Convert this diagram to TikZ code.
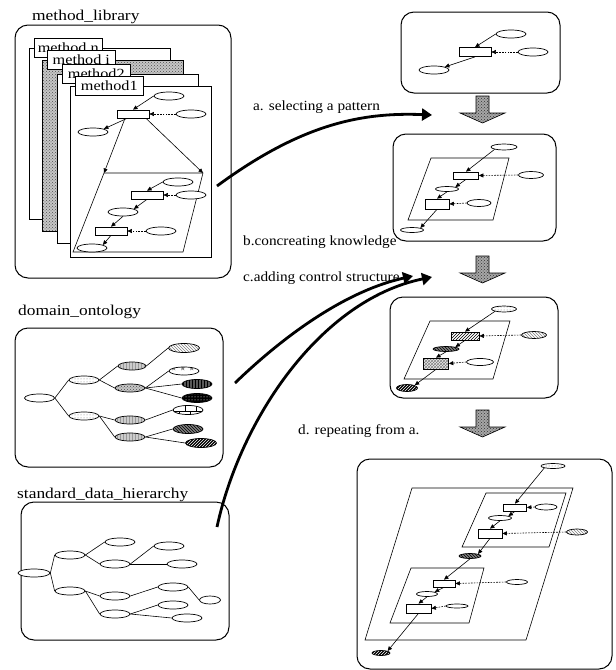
\documentclass[tikz,border=0pt]{standalone}
\usepackage{fontspec}
\setmainfont{Liberation Serif}
\newfontfamily\titlefont[FakeStretch=1.16]{Liberation Serif}
\newfontfamily\notefont[FakeStretch=1.09]{Liberation Serif}
\usepackage{tikz}
\usetikzlibrary{shapes.geometric,arrows.meta,patterns}

\tikzset{
  heading/.style={font=\titlefont\fontsize{15}{18}\selectfont, inner sep=0pt, anchor=base west},
  steplabel/.style={font=\notefont\fontsize{14}{16}\selectfont, inner sep=0pt, anchor=base west},
  panel/.style={line width=1pt, rounded corners=13pt},
  sheet/.style={draw, line width=0.6pt, fill=white},
  dotsheet/.style={draw, line width=0.6pt, preaction={fill=gray!45}, pattern=crosshatch dots, pattern color=black!70},
  tabbox/.style={draw, line width=0.6pt, fill=white, anchor=north west, minimum width=68pt, minimum height=19pt, inner sep=1pt, font=\titlefont\fontsize{14}{14}\selectfont},
  concept/.style={ellipse, draw, line width=0.7pt, fill=white, inner sep=0pt, minimum width=30pt, minimum height=8pt},
  task/.style={rectangle, draw, line width=0.7pt, fill=white, inner sep=0pt, minimum width=32pt, minimum height=8pt},
  sz/.style 2 args={minimum width=#1, minimum height=#2},
  link/.style={line width=0.6pt},
  flow/.style={line width=0.6pt, -{Triangle[length=4.5pt,width=4pt]}},
  hint/.style={flow, dash pattern=on 1.6pt off 1.2pt},
  bigflow/.style={line width=2.8pt, -{Triangle[length=10pt,width=12pt]}},
  blockfill/.style={draw, line width=0.6pt, preaction={fill=gray!70}, pattern=crosshatch dots, pattern color=black!80},
  % fill patterns of the concepts
  pdots/.style={preaction={fill=white}, pattern=dots, pattern color=gray},
  pgray/.style={preaction={fill=gray!40}, pattern=vertical lines, pattern color=gray!80},
  pdense/.style={preaction={fill=gray!45}, pattern=crosshatch dots, pattern color=black!70},
  plight/.style={preaction={fill=white}, pattern=north west lines, pattern color=gray},
  pstars/.style={preaction={fill=white}, pattern=fivepointed stars, pattern color=gray},
  pdarkv/.style={preaction={fill=black!65}, pattern=vertical lines, pattern color=black},
  pblackdots/.style={preaction={fill=black}, pattern=dots, pattern color=white},
  pbricks/.style={preaction={fill=white}, pattern=bricks},
  pdarkhatch/.style={preaction={fill=black!50}, pattern=north west lines, pattern color=black},
  pblackhatch/.style={preaction={fill=black}, pattern=north east lines, pattern color=white},
  pline/.style={preaction={fill=white}, pattern=north east lines, pattern color=black},
  pzig/.style={preaction={fill=gray!15}, pattern=crosshatch, pattern color=gray},
  downblock/.pic={\draw[blockfill] (-6.5,0) -- (6.5,0) -- (6.5,17) -- (22.5,17) -- (0,27) -- (-22.5,17) -- (-6.5,17) -- cycle;}
}

\begin{document}
\begin{tikzpicture}[x=1pt, y=-1pt]
\useasboundingbox (0,0) rectangle (616,670);

% Headings
\node[heading] (tLib) at (32,20) {method\_library};
\node[heading] (tOnto) at (18,315) {domain\_ontology};
\node[heading] (tData) at (17,498) {standard\_data\_hierarchy};

% Method library
\draw[panel] (15,25) rectangle (231,278);
\foreach \lx/\ty/\rx/\by/\st/\nm/\txt in {29/48/170/219/sheet/n/method n, 42/60/183/231/dotsheet/i/method i, 57/74/198/243/sheet/2/method2, 70/86/211/257/sheet/1/method1} {
    \draw[\st] (\lx,\ty) rectangle (\rx,\by);
    \node[tabbox] (tab\nm) at (\lx+5,\ty-10) {\txt};
}

% Pattern inside method1
\node[concept] (libIn) at (169,96) {};
\node[task] (libTask) at (133,114) {};
\node[concept] (libCtl) at (191,114) {};
\node[concept] (libOut) at (93,132) {};
\draw[flow] (libIn.west) -- (libTask.north);
\draw[hint] (libCtl.west) -- (libTask.east);
\draw[flow] ([xshift=-6pt]libTask.south) -- (libOut.north east);
\coordinate (libL) at (104,173);
\coordinate (libR) at (203,173);
\draw[link] (libL) -- (libR) -- (183,252) -- (73,252) -- cycle;
\draw[flow] ([xshift=-8pt]libTask.south) -- (libL);
\draw[flow] ([xshift=13pt]libTask.south) -- (libR);
\node[concept] (libB1) at (178,182) {};
\node[task] (libB2) at (147,195) {};
\node[concept] (libB3) at (191,195) {};
\node[concept] (libB4) at (123,212) {};
\node[task] (libB5) at (111,231) {};
\node[concept] (libB6) at (161,231) {};
\node[concept] (libB7) at (92,248) {};
\foreach \a/\b in {libB1.west/libB2.north, libB2.south/libB4.north east, libB4.south/libB5.north, libB5.south/libB7.north east}
    \draw[flow] (\a) -- (\b);
\foreach \a/\b in {libB3.west/libB2.east, libB6.west/libB5.east}
    \draw[hint] (\a) -- (\b);

% Domain ontology
\draw[panel] (15,328) rectangle (223,467);
\node[concept] (o0) at (39.5,398) {};
\node[concept, pdots] (oA) at (84,380) {};
\node[concept, pdots] (oB) at (84,416) {};
\node[concept, pgray, sz={28pt}{8pt}] (oA1) at (132,366) {};
\node[concept, pdense] (oA2) at (130,388) {};
\node[concept, pgray] (oB1) at (130,420) {};
\node[concept, pgray] (oB2) at (130,437) {};
\node[concept, plight, sz={31pt}{9pt}] (oA1a) at (184,348) {};
\node[concept, pstars] (oA2a) at (184,371) {};
\node[concept, pdarkv, sz={30pt}{9pt}] (oA2b) at (197,384) {};
\node[concept, pblackdots, sz={30pt}{9pt}] (oA2c) at (197,398) {};
\node[concept, pbricks, sz={30pt}{9pt}] (oB1a) at (188,410) {};
\node[concept, pdarkhatch, sz={30pt}{9pt}] (oB2a) at (188,429) {};
\node[concept, pblackhatch, sz={31pt}{9pt}] (oB2b) at (201,443) {};
\foreach \p/\c in {o0/oA, o0/oB, oA/oA1, oA/oA2, oA1/oA1a, oA2/oA2a, oA2/oA2b, oA2/oA2c, oB/oB1, oB/oB2, oB1/oB1a, oB2/oB2a, oB2/oB2b}
    \draw[link] (\p.east) -- (\c.west);

% Standard data hierarchy
\draw[panel] (21,502) rectangle (229,640);
\node[concept, sz={32pt}{8pt}] (d0) at (34,573) {};
\node[concept] (dP) at (70,555) {};
\node[concept] (dQ) at (70,591) {};
\node[concept] (dP1) at (120,542) {};
\node[concept] (dP2) at (115,564) {};
\node[concept] (dP2a) at (169,546) {};
\node[concept] (dP2b) at (182,564) {};
\node[concept] (dQ1) at (115,596) {};
\node[concept] (dQ2) at (115,614) {};
\node[concept] (dQ1a) at (173,587) {};
\node[concept, sz={21pt}{8pt}] (dQ1b) at (210,600) {};
\node[concept] (dQ2a) at (173,605) {};
\node[concept] (dQ2b) at (187,618) {};
\foreach \p/\c in {d0/dP, d0/dQ, dP/dP1, dP/dP2, dP2/dP2a, dP2/dP2b, dQ/dQ1, dQ/dQ2, dQ1/dQ1a, dQ1a/dQ1b, dQ2/dQ2a, dQ2/dQ2b}
    \draw[link] (\p.east) -- (\c.west);

% Step 1: selected pattern
\draw[panel] (401,12) rectangle (560,93);
\node[concept] (selIn) at (511,34) {};
\node[task, sz={32pt}{9pt}] (selTask) at (475,52) {};
\node[concept] (selCtl) at (533,52) {};
\node[concept] (selOut) at (434,70) {};
\draw[flow] (selIn.west) -- (selTask.north);
\draw[hint] (selCtl.west) -- (selTask.east);
\draw[flow] (selTask.south) -- (selOut.north east);
\pic at (482.5,96) {downblock};

% Step 2: concrete knowledge
\draw[panel] (393,134) rectangle (556,241);
\draw[link] (431,158) -- (509,158) -- (493,220) -- (408,220) -- cycle;
\node[concept, sz={26pt}{6pt}] (conIn) at (504,147) {};
\node[task, sz={25pt}{7pt}] (conT1) at (466,175.5) {};
\node[concept, sz={25pt}{7pt}] (conC1) at (531,175) {};
\node[concept, sz={23pt}{5pt}] (conM) at (447,189) {};
\node[task, sz={24pt}{10pt}] (conT2) at (437,204) {};
\node[concept, sz={24pt}{7pt}] (conC2) at (479,203) {};
\node[concept, sz={23pt}{5pt}] (conOut) at (412,230) {};
\foreach \a/\b in {conIn.south west/conT1.north, conT1.south/conM.north east, conM.south/conT2.north, conT2.south/conOut.north east}
    \draw[flow] (\a) -- (\b);
\foreach \a/\b in {conC1.west/conT1.east, conC2.west/conT2.east}
    \draw[hint] (\a) -- (\b);
\pic at (482.5,256) {downblock};

% Step 3: control structure
\draw[panel] (390,297) rectangle (558,398);
\draw[link] (430,321) -- (510,321) -- (493,379) -- (404,379) -- cycle;
\node[concept, pdots, sz={25pt}{6pt}] (ctlIn) at (504,309) {};
\node[task, pline, sz={28pt}{8pt}] (ctlT1) at (465,336) {};
\node[concept, plight, sz={25pt}{7pt}] (ctlC1) at (534,335) {};
\node[concept, pdarkhatch, sz={26pt}{5pt}] (ctlM) at (446,349) {};
\node[task, pzig, sz={25pt}{11pt}] (ctlT2) at (436,363.5) {};
\node[concept, sz={27pt}{7pt}] (ctlC2) at (480,362) {};
\node[concept, pblackhatch, sz={21pt}{7pt}] (ctlOut) at (407,388) {};
\foreach \a/\b in {ctlIn.south west/ctlT1.north, ctlT1.south/ctlM.north east, ctlM.south/ctlT2.north, ctlT2.south/ctlOut.north east}
    \draw[flow] (\a) -- (\b);
\foreach \a/\b in {ctlC1.west/ctlT1.east, ctlC2.west/ctlT2.east}
    \draw[hint] (\a) -- (\b);
\pic at (482.5,410) {downblock};

% Step 4: repeated pattern
\draw[panel] (357,459) rectangle (612,669);
\draw[link] (412,488) -- (573,488) -- (526,640) -- (365,640) -- cycle;
\draw[link] (486,493) -- (566,493) -- (549,547) -- (462,547) -- cycle;
\draw[link] (411,568) -- (484,568) -- (469,623) -- (390,623) -- cycle;
\node[concept, pdots, sz={24pt}{5pt}] (rep1) at (553,466) {};
\node[task, sz={23pt}{7pt}] (rep2) at (515,507.5) {};
\node[concept, sz={22pt}{6pt}] (rep3) at (546,507) {};
\node[concept, sz={23pt}{5pt}] (rep4) at (500,518) {};
\node[task, sz={24pt}{9pt}] (rep5) at (490,533.5) {};
\node[concept, plight, sz={21pt}{6pt}] (rep6) at (577,532) {};
\node[concept, pdarkhatch, sz={22pt}{5pt}] (rep7) at (470,556) {};
\node[task, sz={22pt}{7pt}] (rep8) at (444,583.5) {};
\node[concept, sz={21pt}{5pt}] (rep9) at (517,582) {};
\node[concept, sz={21pt}{5pt}] (rep10) at (427,594) {};
\node[task, sz={25pt}{9pt}] (rep11) at (418.5,608.5) {};
\node[concept, sz={22pt}{4pt}] (rep12) at (457,606) {};
\node[concept, pblackhatch, sz={18pt}{5pt}] (rep13) at (381,653) {};
\foreach \a/\b in {rep1.south west/rep2.north, rep2.south/rep4.north east, rep4.south/rep5.north, rep5.south/rep7.north east, rep7.south/rep8.north, rep8.south/rep10.north east, rep10.south/rep11.north, rep11.south/rep13.north east}
    \draw[flow] (\a) -- (\b);
\foreach \a/\b in {rep3.west/rep2.east, rep6.west/rep5.east, rep9.west/rep8.east, rep12.west/rep11.east}
    \draw[hint] (\a) -- (\b);

% Steps between the parts
\coordinate (aFrom) at (217,186);
\coordinate (aTo) at (432,115);
\draw[bigflow] (aFrom) .. controls (300,125) and (360,112) .. (aTo);
\coordinate (cFrom1) at (235,383);
\coordinate (cTo1) at (413,276);
\draw[bigflow] (cFrom1) .. controls (290,330) and (350,290) .. (cTo1);
\coordinate (cFrom2) at (217,527);
\coordinate (cTo2) at (432,277);
\draw[bigflow] (cFrom2) .. controls (240,420) and (320,300) .. (cTo2);

% Labels
\node[steplabel] (lblA) at (253,110) {a. selecting a pattern};
\node[steplabel] (lblB) at (243,245) {b.concreating knowledge};
\node[steplabel] (lblC) at (243,281) {c.adding control structure};
\node[steplabel] (lblD) at (298,434) {d. repeating from a.};

\end{tikzpicture}
\end{document}
